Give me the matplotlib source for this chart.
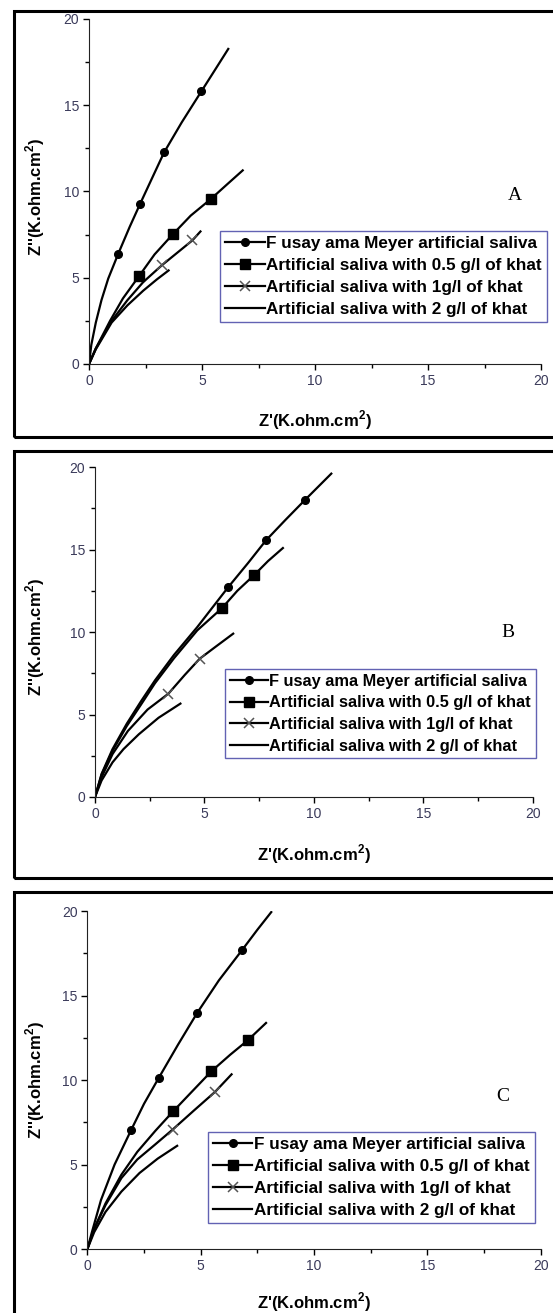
import matplotlib
matplotlib.use('Agg')
import matplotlib.pyplot as plt
from matplotlib.patches import Rectangle

plt.rcParams['font.family'] = ['Liberation Sans', 'DejaVu Sans']
plt.rcParams['mathtext.fontset'] = 'custom'
plt.rcParams['mathtext.rm'] = 'Liberation Sans'
plt.rcParams['mathtext.bf'] = 'Liberation Sans:bold'

# series names
names = ['F usay ama Meyer artificial saliva',
         'Artificial saliva with 0.5 g/l of khat',
         'Artificial saliva with 1g/l of khat',
         'Artificial saliva with 2 g/l of khat']

# panel A
A_fus_x = [0, 0.1, 0.3, 0.55, 0.85, 1.29, 1.8, 2.26, 2.8, 3.32, 4.1, 4.97, 5.6, 6.16]
A_fus_y = [0, 1.1, 2.4, 3.7, 4.95, 6.38, 7.95, 9.28, 10.8, 12.26, 14.0, 15.8, 17.1, 18.26]
A_05_x = [0, 0.3, 0.93, 1.5, 2.2, 2.9, 3.71, 4.5, 5.38, 6.1, 6.8]
A_05_y = [0, 0.9, 2.5, 3.8, 5.07, 6.35, 7.52, 8.6, 9.55, 10.4, 11.22]
A_1_x = [0, 0.3, 1.0, 1.7, 2.4, 3.24, 4.0, 4.57, 4.93]
A_1_y = [0, 0.9, 2.5, 3.7, 4.75, 5.74, 6.55, 7.16, 7.68]
A_2_x = [0, 0.3, 1.0, 1.7, 2.4, 3.0, 3.52]
A_2_y = [0, 0.85, 2.4, 3.4, 4.25, 4.9, 5.42]

# panel B
B_fus_x = [0, 0.3, 0.8, 1.45, 2.1, 2.74, 3.6, 4.67, 6.09, 7.0, 7.81, 8.7, 9.6, 10.79]
B_fus_y = [0, 1.4, 2.9, 4.44, 5.8, 7.07, 8.6, 10.3, 12.73, 14.2, 15.56, 16.8, 18.02, 19.6]
B_05_x = [0, 0.3, 0.8, 1.45, 2.1, 2.74, 3.6, 4.67, 5.8, 6.5, 7.25, 7.9, 8.58]
B_05_y = [0, 1.35, 2.8, 4.3, 5.6, 6.9, 8.4, 10.1, 11.45, 12.5, 13.43, 14.3, 15.09]
B_1_x = [0, 0.3, 0.8, 1.5, 2.4, 3.35, 4.1, 4.78, 5.5, 6.31]
B_1_y = [0, 1.2, 2.6, 4.0, 5.3, 6.26, 7.4, 8.38, 9.1, 9.9]
B_2_x = [0, 0.3, 0.8, 1.3, 2.0, 2.9, 3.9]
B_2_y = [0, 1.0, 2.1, 2.9, 3.8, 4.8, 5.66]

# panel C
C_fus_x = [0, 0.2, 0.6, 1.2, 1.94, 2.5, 3.14, 4.0, 4.85, 5.8, 6.81, 7.5, 8.11]
C_fus_y = [0, 1.0, 2.9, 5.0, 7.07, 8.6, 10.11, 12.1, 13.99, 15.9, 17.67, 18.9, 19.94]
C_05_x = [0, 0.3, 0.8, 1.5, 2.2, 3.0, 3.79, 4.6, 5.47, 6.3, 7.07, 7.88]
C_05_y = [0, 1.2, 2.7, 4.4, 5.75, 7.0, 8.16, 9.3, 10.52, 11.5, 12.35, 13.38]
C_1_x = [0, 0.3, 0.8, 1.5, 2.2, 3.0, 3.76, 4.7, 5.63, 6.36]
C_1_y = [0, 1.2, 2.6, 4.2, 5.3, 6.2, 7.07, 8.2, 9.3, 10.34]
C_2_x = [0, 0.3, 0.8, 1.5, 2.3, 3.1, 3.96]
C_2_y = [0, 1.0, 2.2, 3.4, 4.5, 5.35, 6.11]

panels = [
    dict(tag='A', rect=[0.161, 0.7228, 0.8174, 0.2628],
         series=[(A_fus_x, A_fus_y, [5, 7, 9, 11]), (A_05_x, A_05_y, [4, 6, 8]),
                 (A_1_x, A_1_y, [5, 7]), (A_2_x, A_2_y, [])],
         leg=(0.29, 0.3855), legsize=12.3, tagpos=(18.85, 9.74),
         xlab=-0.13, ylab=(-0.093, 0.484), frame=(0.6672, 0.9916)),
    dict(tag='B', rect=[0.1718, 0.393, 0.792, 0.2513],
         series=[(B_fus_x, B_fus_y, [8, 10, 12]), (B_05_x, B_05_y, [8, 10]),
                 (B_1_x, B_1_y, [5, 7]), (B_2_x, B_2_y, [])],
         leg=(0.297, 0.388), legsize=11.8, tagpos=(18.86, 10.0),
         xlab=-0.139, ylab=(-0.11, 0.485), frame=(0.3313, 0.6565)),
    dict(tag='C', rect=[0.158, 0.0487, 0.820, 0.2574],
         series=[(C_fus_x, C_fus_y, [4, 6, 8, 10]), (C_05_x, C_05_y, [6, 8, 10]),
                 (C_1_x, C_1_y, [6, 8]), (C_2_x, C_2_y, [])],
         leg=(0.266, 0.346), legsize=12.3, tagpos=(18.3, 9.0),
         xlab=-0.121, ylab=(-0.089, 0.5), frame=(-0.02, 0.3206)),
]

styles = [dict(marker='o', ms=5.5, mfc='black', mec='black'),
          dict(marker='s', ms=7.5, mfc='black', mec='black'),
          dict(marker='x', ms=7.5, mec='#555555', mew=1.1),
          dict(marker=None)]

fig = plt.figure(figsize=(5.53, 13.13), dpi=100)

for p in panels:
    ax = fig.add_axes(p['rect'])
    for (x, y, mk), st, nm in zip(p['series'], styles, names):
        ax.plot(x, y, color='black', lw=1.6, markevery=mk if mk else None,
                label=nm, **st)
    ax.set_xlim(0, 20)
    ax.set_ylim(0, 20)
    ax.set_xticks([0, 5, 10, 15, 20])
    ax.set_yticks([0, 5, 10, 15, 20])
    ax.set_xticks([2.5, 7.5, 12.5, 17.5], minor=True)
    ax.set_yticks([2.5, 7.5, 12.5, 17.5], minor=True)
    ax.tick_params(which='major', length=4, width=1, labelsize=10,
                   labelcolor='#3a3a5a', pad=3)
    ax.tick_params(which='minor', length=3, width=1)
    ax.spines['top'].set_visible(False)
    ax.spines['right'].set_visible(False)
    ax.spines['left'].set_color('#222222')
    ax.spines['bottom'].set_color('#222222')

    ax.set_xlabel("Z'(K.ohm.cm$^{\\mathbf{2}}$)", fontsize=12, fontweight='bold')
    ax.xaxis.set_label_coords(0.5, p['xlab'])
    ax.set_ylabel("Z''(K.ohm.cm$^{\\mathbf{2}}$)", fontsize=12, fontweight='bold')
    ax.yaxis.set_label_coords(*p['ylab'])

    ax.text(p['tagpos'][0], p['tagpos'][1], p['tag'], fontsize=14,
            family='Liberation Serif', ha='center', va='center')

    leg = ax.legend(loc='upper left', bbox_to_anchor=p['leg'], borderaxespad=0,
                    frameon=True, fancybox=False, handlelength=2.3,
                    handletextpad=0.1, borderpad=0.3, labelspacing=0.4,
                    prop={'weight': 'bold', 'size': p['legsize']})
    leg.get_frame().set_edgecolor('#3b3ba0')
    leg.get_frame().set_linewidth(1.0)

    b, t = p['frame']
    fig.add_artist(Rectangle((0.0253, b), 1.0, t - b, transform=fig.transFigure,
                             fill=False, lw=2.2, ec='black'))

fig.savefig('out.png', dpi=100)
